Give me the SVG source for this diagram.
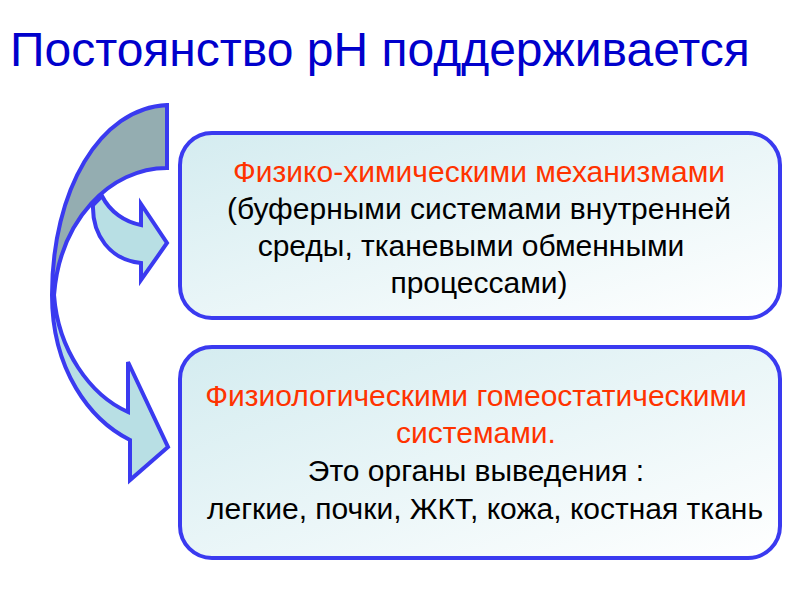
<svg xmlns="http://www.w3.org/2000/svg" width="800" height="600" viewBox="0 0 800 600">
<defs>
<linearGradient id="bg" x1="0" y1="0" x2="1" y2="1"><stop offset="0" stop-color="#d4ecf0"/><stop offset="1" stop-color="#ffffff"/></linearGradient>
<linearGradient id="ag" x1="0" y1="0" x2="0" y2="1"><stop offset="0.5" stop-color="#94adb1"/><stop offset="0.5" stop-color="#b8dfe4"/></linearGradient>
<style>
.box{fill:url(#bg);stroke:#3a3af0;stroke-width:4}
.arr{stroke:#3a3af0;stroke-width:4;stroke-linejoin:miter}
text{font-family:"Liberation Sans",Arial,sans-serif;font-size:30px;text-anchor:middle;fill:#000}
.r{fill:#ff3300}
</style>
</defs>
<text x="10" y="66" style="font-size:48px;fill:#0000cc;text-anchor:start">Постоянство рН поддерживается</text>
<g id="connectors">
<path class="arr" fill="url(#ag)" d="M167,105 C100,108 52,190 52,295 C52,370 90,420 130,440 L130,480 L168,447 L128,362 L128,412 C90,395 58,350 54,295 C60,220 110,168 167,168 Z"/>
<path class="arr" fill="#b8dfe4" d="M102,196 C110,212 125,222 141,225 L141,204 L167,243 L141,280 L141,263 C110,260 92,235 93,205 Z"/>
</g>
<g id="n1">
<rect class="box" x="180" y="133" width="600" height="185" rx="32"/>
<text x="479" y="182" class="r">Физико-химическими механизмами</text>
<text x="479" y="219">(буферными системами внутренней</text>
<text x="471" y="256">среды, тканевыми обменными</text>
<text x="479" y="293">процессами)</text>
</g>
<g id="n2">
<rect class="box" x="180" y="347" width="600" height="211" rx="32"/>
<text x="476" y="406" class="r">Физиологическими гомеостатическими</text>
<text x="476" y="443" class="r">системами.</text>
<text x="476" y="481">Это органы выведения :</text>
<text x="485" y="519">легкие, почки, ЖКТ, кожа, костная ткань</text>
</g>
</svg>
